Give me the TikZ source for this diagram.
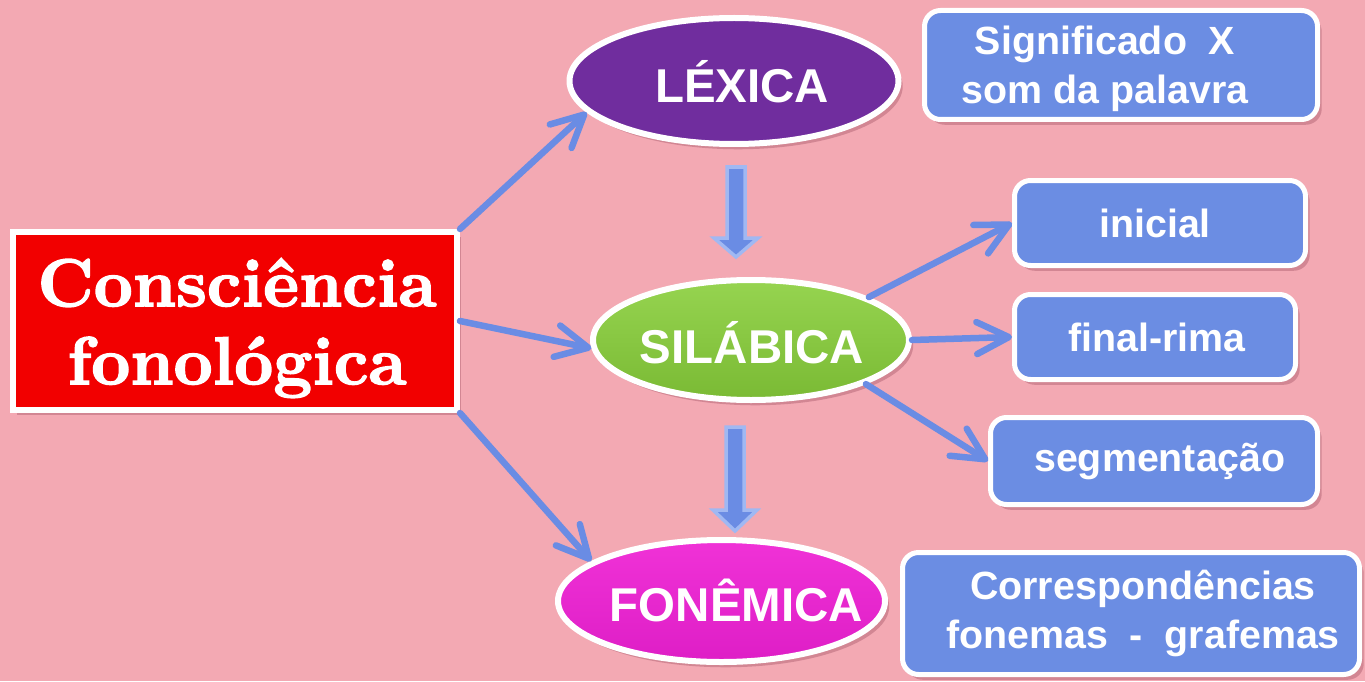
\documentclass[tikz,border=0pt]{standalone}
\usepackage{fontspec}
\newfontfamily\arialb{Liberation Sans}
\newfontface\lmbx{lmroman10-bold.otf}[FakeBold=2]
\usetikzlibrary{arrows.meta,shapes.geometric,shadows}
\definecolor{bg}{RGB}{243,169,179}
\definecolor{bluebox}{RGB}{107,141,227}
\definecolor{arrowblue}{RGB}{106,140,228}
\definecolor{lightblue}{RGB}{160,184,242}
\definecolor{purp}{RGB}{112,45,158}
\definecolor{grnt}{RGB}{150,212,80}
\definecolor{grnb}{RGB}{122,186,52}
\definecolor{magt}{RGB}{240,50,215}
\definecolor{magb}{RGB}{222,30,198}
\definecolor{redbox}{RGB}{242,0,0}
\definecolor{shcol}{RGB}{150,70,90}
\begin{document}
\begin{tikzpicture}[x=0.1mm,y=-0.1mm,
  shd/.style={drop shadow={shadow xshift=1.2pt,shadow yshift=-1.5pt,opacity=0.35,fill=shcol}},
  ell/.style={ellipse,draw=white,line width=0.6mm,inner sep=0pt,shd},
  lbl/.style={text=white,font=\arialb\bfseries\fontsize{13.5}{16}\selectfont},
  bbox/.style={rectangle,rounded corners=1.6mm,draw=white,line width=0.5mm,fill=bluebox,inner sep=0pt,shd},
  btxt/.style={text=white,align=center,font=\arialb\bfseries\fontsize{11.2}{14}\selectfont},
  conn/.style={draw=arrowblue,line width=0.65mm,line cap=round,-{Straight Barb[length=3.2mm,width=3.2mm,round]}},
  blockar/.style={fill=arrowblue,draw=lightblue,line width=0.35mm,line join=miter}
]
\useasboundingbox (0,0) rectangle (1365,681);
\fill[bg] (0,0) rectangle (1365,681);

% main box
\node[rectangle,draw=white,line width=0.6mm,fill=redbox,minimum width=44.4mm,minimum height=17.8mm,inner sep=0pt,shd,
  label={[text=white,align=center,font=\lmbx\fontsize{19.3}{22.2}\selectfont,yshift=-0.7mm,xshift=0.2mm]center:Consciência\\fonológica}]
  (red) at (235,321) {};

% ellipses
\node[ell,fill=purp,minimum width=32.9mm,minimum height=12.6mm,
  label={[lbl,xshift=0.8mm,yshift=-0.1mm]center:LÉXICA}] (lex) at (734,81) {};
\node[ell,top color=grnt,bottom color=grnb,draw=white,minimum width=31.6mm,minimum height=12.0mm,
  label={[lbl,xshift=0.1mm,yshift=-0.3mm]center:SILÁBICA}] (sil) at (751,340) {};
\node[ell,top color=magt,bottom color=magb,draw=white,minimum width=32.7mm,minimum height=12.2mm,
  label={[lbl,xshift=1.5mm,yshift=0.1mm]center:FONÊMICA}] (fon) at (721.5,601) {};

% blue boxes
\node[bbox,minimum width=39.3mm,minimum height=10.9mm,
  label={[btxt,xshift=-1.6mm,yshift=-0.4mm]center:Significado\ \ X\\som da palavra}] (sig) at (1121,65) {};
\node[bbox,minimum width=29.1mm,minimum height=8.5mm,
  label={[btxt,xshift=-0.5mm]center:inicial}] (ini) at (1160,223) {};
\node[bbox,minimum width=28.1mm,minimum height=8.5mm,
  label={[btxt,xshift=0.2mm]center:final-rima}] (fin) at (1155,337) {};
\node[bbox,minimum width=32.7mm,minimum height=8.7mm,
  label={[btxt,xshift=0.6mm]center:segmentação}] (seg) at (1154,461) {};
\node[bbox,minimum width=45.7mm,minimum height=12.2mm,
  label={[btxt,xshift=1.2mm]center:Correspondências\\fonemas\ \ -\ \ grafemas}] (cor) at (1131,613.5) {};

% connectors
\draw[conn] (red.north east) -- (lex.192);
\draw[conn] (red.east) -- (sil.183);
\draw[conn] (red.south east) -- (fon.163);
\draw[conn] (sil.20) -- (ini.west);
\draw[conn] (sil.east) -- (fin.west);
\draw[conn] (sil.-21) -- (seg.west);

% block arrows
\draw[blockar] (727,167) -- (745,167) -- (745,238) -- (758,238) -- (736,257) -- (714,238) -- (727,238) -- cycle;
\draw[blockar] (726,427) -- (744,427) -- (744,510) -- (757,510) -- (735,531) -- (713,510) -- (726,510) -- cycle;
\end{tikzpicture}
\end{document}
